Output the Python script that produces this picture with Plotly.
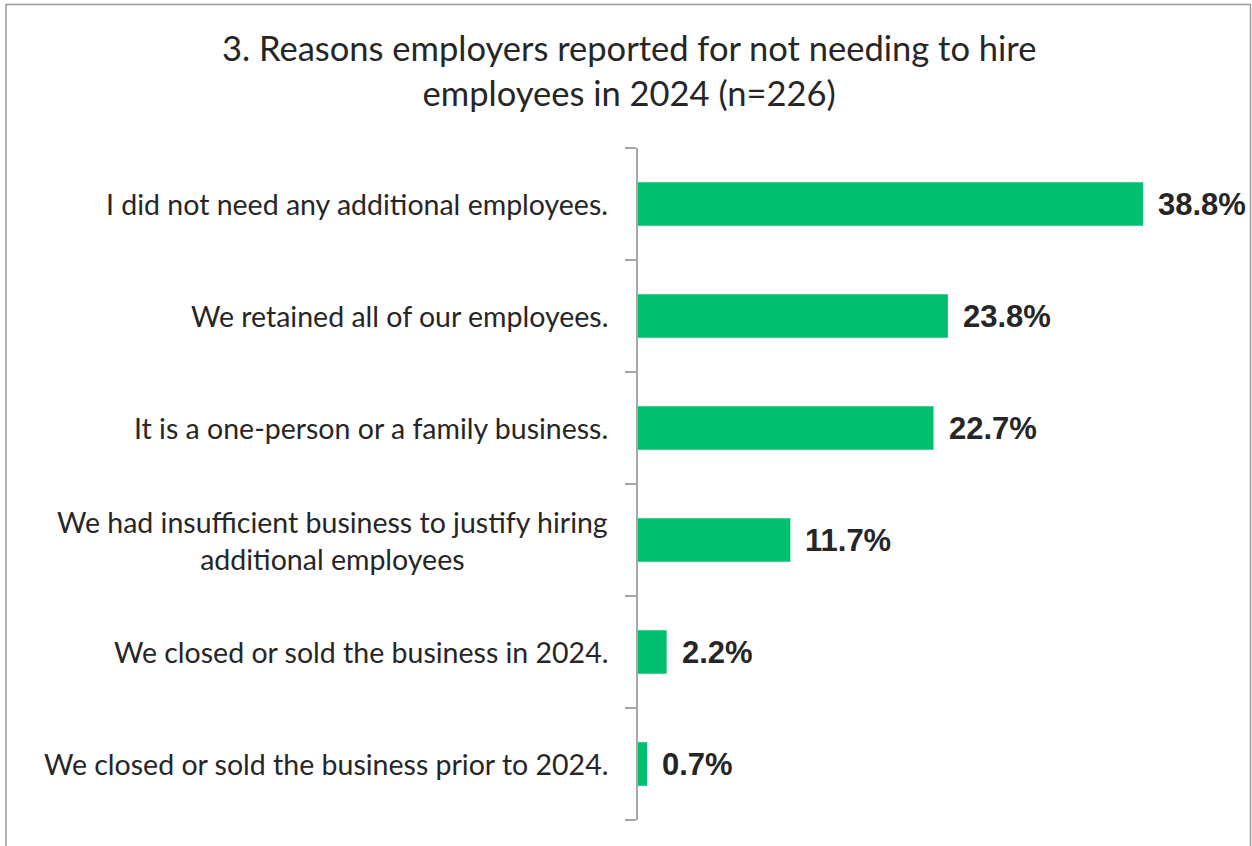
import plotly.graph_objects as go

# Survey responses (share of employers, %)
reasons = [
    "I did not need any additional employees.",
    "We retained all of our employees.",
    "It is a one-person or a family business.",
    "We had insufficient business to justify hiring<br>additional employees",
    "We closed or sold the business in 2024.",
    "We closed or sold the business prior to 2024.",
]
shares = [38.8, 23.8, 22.7, 11.7, 2.2, 0.7]
value_labels = [f"{v:.1f}%" for v in shares]

title_text = "3. Reasons employers reported for not needing to hire<br>employees in 2024 (n=226)"

W, H = 1252, 846
L, R, T, B = 638, 7, 148, 26
plot_w = W - L - R
plot_h = H - T - B
px_per_unit = 13.02

BAR_COLOR = "#00BF6F"
AXIS_COLOR = "#A6A6A6"
TEXT_COLOR = "#262626"
LABEL_FONT = "Lato"
VALUE_FONT = "Liberation Sans"


def px_x(p):
    return (p - L) / plot_w


def px_y(p):
    return 1 - (p - T) / plot_h


fig = go.Figure(
    go.Bar(
        x=shares,
        y=list(range(len(reasons))),
        orientation="h",
        marker=dict(color=BAR_COLOR, line=dict(width=0)),
        width=0.39,
        hoverinfo="skip",
    )
)

# category labels, each block centred on its own lines
for i, name in enumerate(reasons):
    fig.add_annotation(
        x=0, xref="paper", y=i, yref="y",
        text=name, showarrow=False,
        xanchor="right", yanchor="middle", align="center",
        xshift=-28,
        font=dict(family=LABEL_FONT, size=28.5, color=TEXT_COLOR),
    )

# value labels beside each bar
for i, (v, lab) in enumerate(zip(shares, value_labels)):
    fig.add_annotation(
        x=v, xref="x", y=i, yref="y",
        text=f"<b>{lab}</b>", showarrow=False,
        xanchor="left", yanchor="middle",
        xshift=13,
        font=dict(family=VALUE_FONT, size=31, color=TEXT_COLOR),
    )

# chart title
fig.add_annotation(
    x=px_x(629), xref="paper", y=px_y(70), yref="paper",
    text=title_text, showarrow=False,
    xanchor="center", yanchor="middle", align="center",
    font=dict(family=LABEL_FONT, size=34.5, color=TEXT_COLOR),
)

# outer frame
fig.add_shape(
    type="rect", xref="paper", yref="paper",
    x0=px_x(6), x1=px_x(1250.5), y0=px_y(850), y1=px_y(4.5),
    line=dict(color="#9A9A9A", width=1.5), fillcolor="rgba(0,0,0,0)",
    layer="below",
)

fig.update_layout(
    width=W, height=H,
    margin=dict(l=L, r=R, t=T, b=B),
    paper_bgcolor="white", plot_bgcolor="white",
    showlegend=False,
    xaxis=dict(
        range=[0, plot_w / px_per_unit],
        visible=False,
        fixedrange=True,
    ),
    yaxis=dict(
        range=[len(reasons) - 0.5, -0.5],
        tickmode="array",
        tickvals=[i - 0.5 for i in range(len(reasons) + 1)],
        ticktext=[""] * (len(reasons) + 1),
        ticks="outside", ticklen=11, tickwidth=1.5, tickcolor=AXIS_COLOR,
        showline=True, linecolor=AXIS_COLOR, linewidth=1.5,
        showgrid=False, zeroline=False,
        fixedrange=True,
    ),
)

fig.write_html("out.html")
